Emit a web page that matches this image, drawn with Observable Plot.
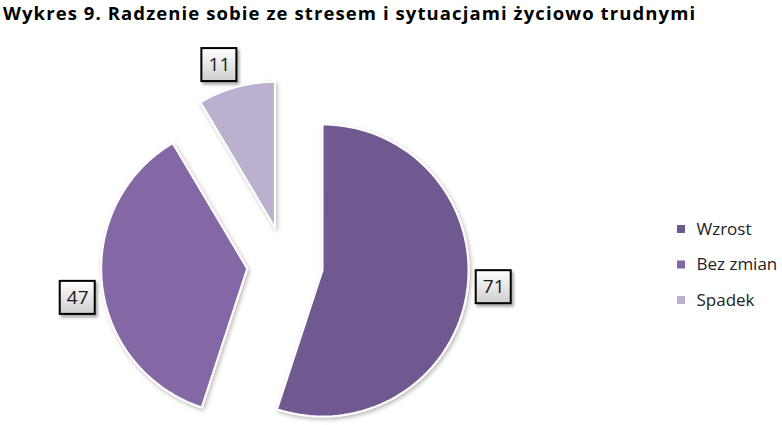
<!DOCTYPE html>
<html>
<head>
<meta charset="utf-8">
<script src="https://cdn.jsdelivr.net/npm/d3@7"></script>
<script src="https://cdn.jsdelivr.net/npm/@observablehq/plot@0.6"></script>
<style>
  html, body { margin: 0; padding: 0; background: #fff; }
  #wrap { width: 782px; height: 425px; position: relative; overflow: hidden; }
  #title { height: 36px; box-sizing: border-box; padding-left: 3px; padding-top: 0px;
           font-family: "Open Sans", Lato, sans-serif; font-weight: bold; font-size: 18.5px;
           line-height: 25.5px; color: #000; white-space: nowrap; }
  svg { display: block; }
</style>
</head>
<body>
<div id="wrap">
  <div id="title"></div>
  <div id="chart"></div>
</div>
<script>
// ---- data ----
const titleText = "Wykres 9. Radzenie sobie ze stresem i sytuacjami życiowo trudnymi";
const categories = ["Wzrost", "Bez zmian", "Spadek"];
const values = [71, 47, 11];
const colors = ["#6f5890", "#8467a6", "#bcb0cf"];

// ---- layout (pixels, page coordinates) ----
const W = 782, H = 425, TOP = 36;
const cx = 284.5, cy = 264, R = 146, EXPLODE = 38;
const LABEL_DIST = 172, LABEL_ROT = -3.5 * Math.PI / 180, BOX_W = 35, BOX_H = 33;
const LEG_X = 681, LEG_TEXT_X = 696, LEG_Y0 = 229, LEG_DY = 35.5, LEG_SQ = 8;
const FONT = '"Open Sans", Lato, sans-serif';

// title, fitted to the reference width
const tEl = document.getElementById("title");
tEl.textContent = titleText;
{
  const c = document.createElement("canvas").getContext("2d");
  c.font = 'bold 18.5px "Open Sans"';
  const w = c.measureText(titleText).width;
  const target = 692;
  tEl.style.letterSpacing = ((target - w) / (titleText.length - 1)).toFixed(3) + "px";
}

const data = categories.map((c, i) => ({cat: c, value: values[i], color: colors[i]}));
const arcs = d3.pie().sort(null).value(d => d.value)(data);

const slices = arcs.map(a => {
  const mid = (a.startAngle + a.endAngle) / 2;
  const ox = cx + EXPLODE * Math.sin(mid), oy = cy - EXPLODE * Math.cos(mid);
  const pts = [{x: ox, y: oy}];
  const n = 90;
  for (let i = 0; i <= n; i++) {
    const t = a.startAngle + (a.endAngle - a.startAngle) * i / n;
    pts.push({x: ox + R * Math.sin(t), y: oy - R * Math.cos(t)});
  }
  pts.push({x: ox, y: oy});
  const la = mid + LABEL_ROT;
  const lx = ox + LABEL_DIST * Math.sin(la);
  const ly = oy - LABEL_DIST * Math.cos(la);
  return {cat: a.data.cat, value: a.data.value, color: a.data.color, pts, lx, ly};
});

const labels = slices.map(s => ({
  value: s.value, x: s.lx, y: s.ly,
  x1: s.lx - BOX_W / 2, x2: s.lx + BOX_W / 2, y1: s.ly - BOX_H / 2, y2: s.ly + BOX_H / 2
}));

const legend = data.map((d, i) => ({
  cat: d.cat, color: d.color, y: LEG_Y0 + i * LEG_DY
}));

const plot = Plot.plot({
  width: W, height: H - TOP,
  margin: 0,
  x: {domain: [0, W], range: [0, W], axis: null},
  y: {domain: [TOP, H], range: [0, H - TOP], axis: null},
  marks: [
    ...slices.map(s => Plot.line(s.pts, {
      x: "x", y: "y", fill: s.color, stroke: "white", strokeWidth: 2,
      strokeLinejoin: "round", curve: "linear"
    })),
    Plot.rect(labels, {
      x1: "x1", x2: "x2", y1: "y1", y2: "y2",
      fill: "url(#lblGrad)", stroke: "#000", strokeWidth: 2
    }),
    Plot.text(labels, {
      x: "x", y: "y", text: d => String(d.value),
      fontSize: 19, fill: "#1a1a1a", fontFamily: FONT, dy: 0
    }),
    Plot.rect(legend, {
      x1: () => LEG_X - LEG_SQ / 2, x2: () => LEG_X + LEG_SQ / 2,
      y1: d => d.y - LEG_SQ / 2, y2: d => d.y + LEG_SQ / 2,
      fill: d => d.color
    }),
    Plot.text(legend, {
      x: () => LEG_TEXT_X, y: "y", text: "cat", textAnchor: "start",
      fontSize: 17, fill: "#222", fontFamily: FONT, dy: 0
    })
  ]
});

// defs: gradient for label boxes and soft shadow
const ns = "http://www.w3.org/2000/svg";
const defs = document.createElementNS(ns, "defs");
defs.innerHTML = `
  <linearGradient id="lblGrad" x1="0" y1="0" x2="0" y2="1">
    <stop offset="0" stop-color="#ffffff"/>
    <stop offset="1" stop-color="#cfcfcf"/>
  </linearGradient>
  <filter id="shadow" x="-20%" y="-20%" width="140%" height="140%">
    <feDropShadow dx="1.5" dy="2" stdDeviation="2" flood-color="#000" flood-opacity="0.28"/>
  </filter>
  <filter id="shadow2" x="-30%" y="-30%" width="160%" height="160%">
    <feDropShadow dx="2" dy="2.5" stdDeviation="1.5" flood-color="#000" flood-opacity="0.35"/>
  </filter>`;
plot.insertBefore(defs, plot.firstChild);
plot.querySelectorAll('g[aria-label="line"]').forEach(g => g.setAttribute("filter", "url(#shadow)"));
const rects = plot.querySelectorAll('g[aria-label="rect"]');
if (rects[0]) rects[0].setAttribute("filter", "url(#shadow2)");

document.getElementById("chart").appendChild(plot);
</script>
</body>
</html>
